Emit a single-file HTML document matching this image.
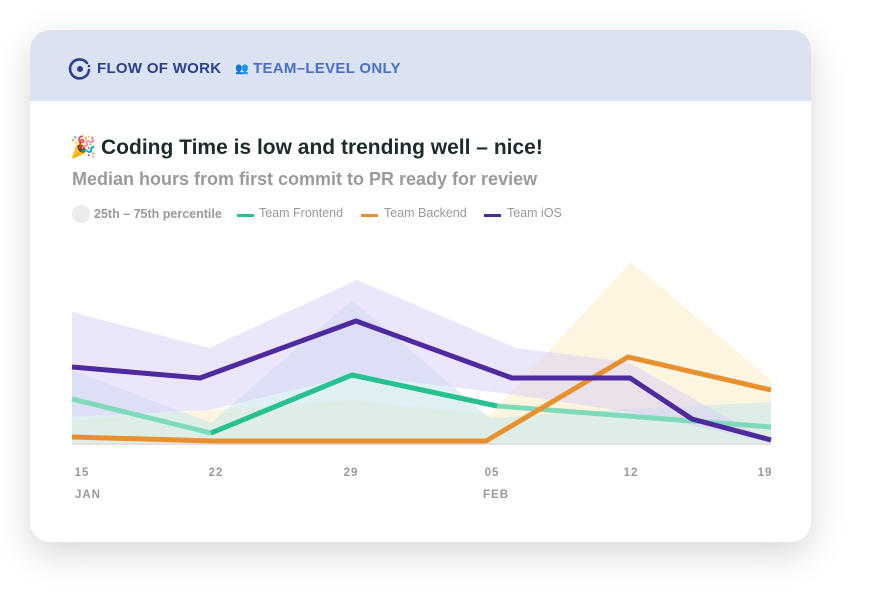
<!DOCTYPE html><html><head><style>
body{margin:0;width:878px;height:610px;background:#fff;font-family:"Liberation Sans",sans-serif;overflow:hidden}
.card{position:absolute;left:30px;top:30px;width:781px;height:512px;border-radius:20px;background:#fff;box-shadow:0 12px 36px rgba(0,0,0,.16);overflow:hidden}
.hdr{height:71px;background:#dbe3f3;position:relative}
.t{position:absolute;white-space:nowrap}
</style></head><body>
<div class="card">
<div class="hdr">
<svg class="t" style="left:38px;top:27px" width="24" height="24" viewBox="0 0 24 24"><path d="M19 6 A9.5 9.5 0 1 0 21 13" fill="none" stroke="#2b3f8c" stroke-width="2.6" stroke-linecap="round"/><circle cx="12" cy="12" r="3" fill="#2b3f8c"/><circle cx="21" cy="9" r="1.3" fill="#2b3f8c"/></svg>
<div class="t" style="left:67px;top:30px;font-size:15px;font-weight:bold;color:#2b3f8c;letter-spacing:.3px">FLOW OF WORK</div>
<div class="t" style="left:205px;top:32px;font-size:11px;color:#6b86b8">👥</div>
<div class="t" style="left:223px;top:30px;font-size:15px;font-weight:bold;color:#4a6fc4;letter-spacing:.3px">TEAM–LEVEL ONLY</div>
</div>
<div class="t" style="left:40px;top:106px;font-size:21px">🎉</div>
<div class="t" style="left:71px;top:106px;font-size:21px;font-weight:bold;color:#1c2b2b">Coding Time is low and trending well – nice!</div>
<div class="t" style="left:42px;top:139px;font-size:18px;font-weight:bold;color:#9a9a9a">Median hours from first commit to PR ready for review</div>
<div class="t" style="left:42px;top:175px;width:18px;height:18px;border-radius:50%;background:#ececec"></div>
<div class="t" style="left:64px;top:177px;font-size:12.5px;font-weight:bold;color:#999">25th – 75th percentile</div>
<div class="t" style="left:207px;top:184px;width:17px;height:3px;background:#26c18f"></div>
<div class="t" style="left:229px;top:176px;font-size:12.5px;color:#999">Team Frontend</div>
<div class="t" style="left:331px;top:184px;width:17px;height:3px;background:#e8902e"></div>
<div class="t" style="left:354px;top:176px;font-size:12.5px;color:#999">Team Backend</div>
<div class="t" style="left:454px;top:184px;width:17px;height:3px;background:#4f2a9e"></div>
<div class="t" style="left:477px;top:176px;font-size:12.5px;color:#999">Team iOS</div>
</div>
<svg style="position:absolute;left:0;top:0" width="878" height="610">
<polygon points="72,420 352,400 490,415 631,262 771,380 771,445 72,445" fill="#fbe9b8" opacity=".45"/>
<polygon points="72,370 211,423 352,300 490,418 628,409 771,402 771,445 72,445" fill="#c6e6ec" opacity=".55"/>
<polygon points="72,312 209,348 357,280 516,348 628,362 771,442 628,412 516,395 357,375 209,410 72,417" fill="#d9cdf7" opacity=".5"/>
<line x1="72" y1="444" x2="771" y2="444" stroke="#e4dede" stroke-width="2"/>
<polyline points="72,399 211,433 352,375 497,406 771,427" fill="none" stroke="#7fd9bb" stroke-width="5" stroke-linejoin="round"/>
<polyline points="211,433 352,375 497,406" fill="none" stroke="#26c18f" stroke-width="5" stroke-linejoin="round"/>
<polyline points="72,437 214,441 486,441 628,357 771,390" fill="none" stroke="#e8902e" stroke-width="5" stroke-linejoin="round"/>
<polyline points="72,367 200,378 356,321 512,378 630,378 692,419 771,440" fill="none" stroke="#4f2a9e" stroke-width="5" stroke-linejoin="round"/>
<g font-size="11.5" font-weight="bold" fill="#999" letter-spacing="1" text-anchor="middle">
<text x="82" y="476">15</text><text x="216" y="476">22</text><text x="351" y="476">29</text><text x="492" y="476">05</text><text x="631" y="476">12</text><text x="765" y="476">19</text>
<text x="88" y="498">JAN</text><text x="496" y="498">FEB</text></g>
</svg>
</body></html>
